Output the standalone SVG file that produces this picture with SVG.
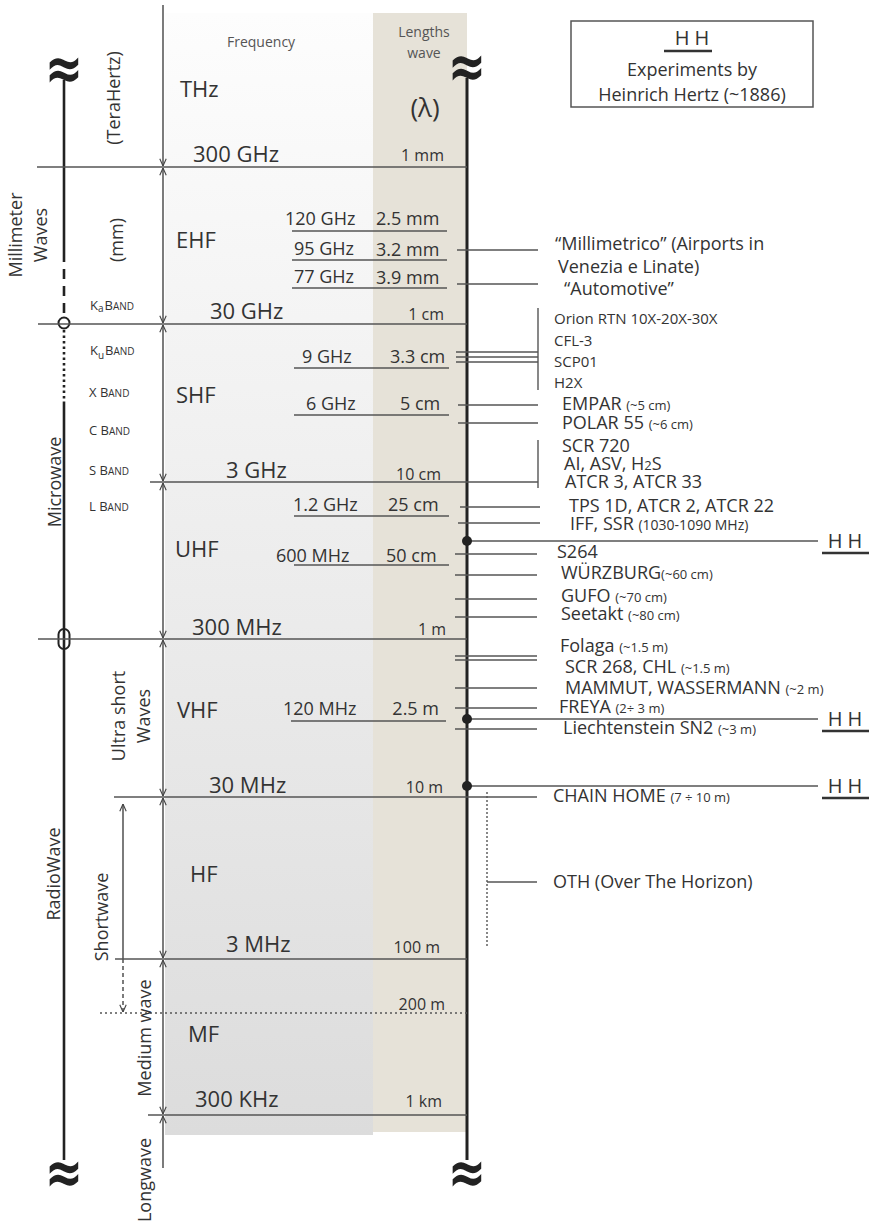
<svg xmlns="http://www.w3.org/2000/svg" width="875" height="1222" viewBox="0 0 875 1222">
<defs>
<linearGradient id="gcol" x1="0" y1="0" x2="0" y2="1">
<stop offset="0" stop-color="#fdfdfd"/>
<stop offset="1" stop-color="#dcdcdc"/>
</linearGradient>
<marker id="ah" viewBox="0 0 10 10" refX="10" refY="5" markerWidth="8" markerHeight="8" orient="auto-start-reverse" markerUnits="userSpaceOnUse">
<path d="M1,1 L10,5 L1,9" fill="none" stroke="#444" stroke-width="1.4"/>
</marker>
<style>
text{font-family:"Open Sans","Liberation Sans",sans-serif;fill:#333}
.big{font-size:22px}
.mid{font-size:18px}
.sm{font-size:16px}
.lab{font-size:18px}
.par{font-size:13px}
.hdr{font-size:14px;fill:#555}
.band{font-size:13px}
.bsm{font-size:10px}
.rot{font-size:18px;text-anchor:middle}
.ln{stroke:#555;stroke-width:1.5;fill:none}
.cn{stroke:#555;stroke-width:1.4;fill:none}
.ax{stroke:#444;stroke-width:1.4;fill:none}
.thick{stroke:#222;stroke-width:2.6;fill:none}
.sq{font-family:"DejaVu Sans",sans-serif;font-size:38px;font-weight:bold;fill:#222;text-anchor:middle}
.hh{font-size:20px}
</style>
</defs>

<g id="background">
<rect x="165" y="13" width="208" height="1122" fill="url(#gcol)"/>
<rect x="373" y="13" width="94" height="1119" fill="#e6e2d8"/>
</g>

<g id="axes">
<line class="thick" x1="64" y1="80" x2="64" y2="252"/>
<line class="thick" x1="64" y1="252" x2="64" y2="318" stroke-dasharray="10,7"/>
<circle cx="64" cy="323" r="5.5" fill="none" stroke="#222" stroke-width="2"/>
<line x1="64" y1="330" x2="64" y2="403" stroke="#222" stroke-width="2.6" stroke-dasharray="2.5,3"/>
<line class="thick" x1="64" y1="403" x2="64" y2="1160"/>
<rect x="58.5" y="629" width="11" height="20" rx="5.5" fill="none" stroke="#222" stroke-width="2"/>
<line x1="467" y1="78" x2="467" y2="1160" stroke="#222" stroke-width="3"/>
<text class="sq" transform="translate(64,68) scale(1.2,1.6)" x="0" y="13">≈</text>
<text class="sq" transform="translate(467,66) scale(1.2,1.6)" x="0" y="13">≈</text>
<text class="sq" transform="translate(64,1172) scale(1.2,1.6)" x="0" y="13">≈</text>
<text class="sq" transform="translate(467,1172) scale(1.2,1.6)" x="0" y="13">≈</text>
</g>

<g id="frequency-axis">
<line class="ax" x1="163" y1="5" x2="163" y2="166" marker-end="url(#ah)"/>
<line class="ax" x1="163" y1="168" x2="163" y2="323" marker-start="url(#ah)" marker-end="url(#ah)"/>
<line class="ax" x1="163" y1="325" x2="163" y2="481" marker-start="url(#ah)" marker-end="url(#ah)"/>
<line class="ax" x1="163" y1="483" x2="163" y2="638" marker-start="url(#ah)" marker-end="url(#ah)"/>
<line class="ax" x1="163" y1="640" x2="163" y2="796" marker-start="url(#ah)" marker-end="url(#ah)"/>
<line class="ax" x1="163" y1="798" x2="163" y2="958" marker-start="url(#ah)" marker-end="url(#ah)"/>
<line class="ax" x1="163" y1="960" x2="163" y2="1114" marker-start="url(#ah)" marker-end="url(#ah)"/>
<line class="ax" x1="163" y1="1116" x2="163" y2="1168" marker-start="url(#ah)"/>
<line class="ax" x1="123" y1="804" x2="123" y2="959" marker-start="url(#ah)"/>
<line class="ax" x1="123" y1="959" x2="123" y2="1012" stroke-dasharray="4,3" marker-end="url(#ah)"/>
</g>

<g id="connectors">
<line class="ln" x1="37" y1="167" x2="467" y2="167"/>
<line class="ln" x1="38" y1="324" x2="467" y2="324"/>
<line class="ln" x1="150" y1="482" x2="538" y2="482"/>
<line class="ln" x1="38" y1="639" x2="467" y2="639"/>
<line class="ln" x1="114" y1="797" x2="537" y2="797"/>
<line class="ln" x1="115" y1="959" x2="467" y2="959"/>
<line x1="100" y1="1013" x2="467" y2="1013" stroke="#555" stroke-width="1.5" stroke-dasharray="2,3"/>
<line class="ln" x1="148" y1="1115" x2="467" y2="1115"/>

<line class="ln" x1="292" y1="231" x2="447" y2="231"/>
<line class="ln" x1="292" y1="260" x2="447" y2="260"/>
<line class="ln" x1="292" y1="288" x2="447" y2="288"/>
<line class="ln" x1="294" y1="368" x2="449" y2="368"/>
<line class="ln" x1="294" y1="415" x2="449" y2="415"/>
<line class="ln" x1="294" y1="516" x2="449" y2="516"/>
<line class="ln" x1="294" y1="565" x2="449" y2="565"/>
<line class="ln" x1="291" y1="721" x2="446" y2="721"/>

<line class="cn" x1="457" y1="250" x2="538" y2="250"/>
<line class="cn" x1="457" y1="284" x2="538" y2="284"/>
<line class="cn" x1="538" y1="308" x2="538" y2="390"/>
<line class="cn" x1="456" y1="352" x2="538" y2="352"/>
<line class="cn" x1="456" y1="357" x2="538" y2="357"/>
<line class="cn" x1="456" y1="362" x2="538" y2="362"/>
<line class="cn" x1="458" y1="405" x2="538" y2="405"/>
<line class="cn" x1="458" y1="423" x2="538" y2="423"/>
<line class="cn" x1="538" y1="440" x2="538" y2="488"/>
<line class="cn" x1="460" y1="507" x2="540" y2="507"/>
<line class="cn" x1="458" y1="523" x2="540" y2="523"/>
<line class="cn" x1="467" y1="541" x2="818" y2="541"/>
<line class="cn" x1="455" y1="554" x2="537" y2="554"/>
<line class="cn" x1="455" y1="575" x2="537" y2="575"/>
<line class="cn" x1="455" y1="599" x2="537" y2="599"/>
<line class="cn" x1="455" y1="617" x2="537" y2="617"/>
<line class="cn" x1="455" y1="656" x2="537" y2="656"/>
<line class="cn" x1="455" y1="660" x2="537" y2="660"/>
<line class="cn" x1="455" y1="688" x2="537" y2="688"/>
<line class="cn" x1="455" y1="708" x2="537" y2="708"/>
<line class="cn" x1="467" y1="719" x2="818" y2="719"/>
<line class="cn" x1="455" y1="729" x2="537" y2="729"/>
<line class="cn" x1="467" y1="786" x2="818" y2="786"/>
<line x1="487" y1="792" x2="487" y2="947" stroke="#555" stroke-width="1.4" stroke-dasharray="2,2"/>
<line class="cn" x1="487" y1="882" x2="537" y2="882"/>
<circle cx="467" cy="541" r="5" fill="#222"/>
<circle cx="467" cy="719" r="5" fill="#222"/>
<circle cx="467" cy="786" r="5" fill="#222"/>
</g>

<g id="legend">
<rect x="571" y="21" width="242" height="86" fill="#fff" stroke="#555" stroke-width="1.5"/>
<text class="hh" x="692" y="45" text-anchor="middle">H H</text>
<line x1="664" y1="51" x2="712" y2="51" stroke="#333" stroke-width="2.5"/>
<text class="lab" x="692" y="76" text-anchor="middle">Experiments by</text>
<text class="lab" x="692" y="101" text-anchor="middle">Heinrich Hertz (~1886)</text>
</g>

<g id="headers">
<text class="hdr" x="227" y="47">Frequency</text>
<text class="hdr" x="424" y="37" text-anchor="middle">Lengths</text>
<text class="hdr" x="424" y="58" text-anchor="middle">wave</text>
<text x="425" y="117" text-anchor="middle" style="font-size:26px">(λ)</text>
</g>

<g id="band-names">
<text class="rot" transform="translate(120,98) rotate(-90)">(TeraHertz)</text>
<text class="rot" transform="translate(123,240) rotate(-90)">(mm)</text>
<text class="rot" transform="translate(22,235) rotate(-90)">Millimeter</text>
<text class="rot" transform="translate(47,235) rotate(-90)">Waves</text>
<text class="rot" transform="translate(61,482) rotate(-90)">Microwave</text>
<text class="rot" transform="translate(60,874) rotate(-90)">RadioWave</text>
<text class="rot" transform="translate(125,716) rotate(-90)">Ultra short</text>
<text class="rot" transform="translate(150,716) rotate(-90)">Waves</text>
<text class="rot" transform="translate(108,917) rotate(-90)">Shortwave</text>
<text class="rot" transform="translate(151,1038) rotate(-90)">Medium wave</text>
<text class="rot" transform="translate(151,1180) rotate(-90)">Longwave</text>

<text class="band" x="90" y="310">K<tspan class="bsm" dy="2">a</tspan><tspan dy="-2" dx="1">B</tspan><tspan class="bsm">AND</tspan></text>
<text class="band" x="90" y="355">K<tspan class="bsm" dy="4">u</tspan><tspan dy="-4" dx="1">B</tspan><tspan class="bsm">AND</tspan></text>
<text class="band" x="89" y="397">X B<tspan class="bsm">AND</tspan></text>
<text class="band" x="89" y="435">C B<tspan class="bsm">AND</tspan></text>
<text class="band" x="89" y="475">S B<tspan class="bsm">AND</tspan></text>
<text class="band" x="89" y="511">L B<tspan class="bsm">AND</tspan></text>
</g>

<g id="frequency-labels">
<text class="big" x="180" y="97">THz</text>
<text class="big" x="193" y="162">300 GHz</text>
<text class="sm" x="444" y="161" text-anchor="end">1 mm</text>
<text class="big" x="176" y="248">EHF</text>
<text class="mid" x="285" y="225">120 GHz</text>
<text class="mid" x="376" y="225">2.5 mm</text>
<text class="mid" x="294" y="255">95 GHz</text>
<text class="mid" x="376" y="256">3.2 mm</text>
<text class="mid" x="294" y="283">77 GHz</text>
<text class="mid" x="376" y="284">3.9 mm</text>
<text class="big" x="210" y="319">30 GHz</text>
<text class="sm" x="444" y="320" text-anchor="end">1 cm</text>
<text class="mid" x="302" y="363">9 GHz</text>
<text class="mid" x="390" y="363">3.3 cm</text>
<text class="big" x="176" y="403">SHF</text>
<text class="mid" x="306" y="410">6 GHz</text>
<text class="mid" x="400" y="410">5 cm</text>
<text class="big" x="226" y="478">3 GHz</text>
<text class="sm" x="441" y="480" text-anchor="end">10 cm</text>
<text class="mid" x="293" y="511">1.2 GHz</text>
<text class="mid" x="388" y="511">25 cm</text>
<text class="big" x="175" y="557">UHF</text>
<text class="mid" x="276" y="562">600 MHz</text>
<text class="mid" x="386" y="562">50 cm</text>
<text class="big" x="192" y="635">300 MHz</text>
<text class="sm" x="446" y="635" text-anchor="end">1 m</text>
<text class="big" x="177" y="718">VHF</text>
<text class="mid" x="283" y="715">120 MHz</text>
<text class="mid" x="439" y="715" text-anchor="end">2.5 m</text>
<text class="big" x="209" y="793">30 MHz</text>
<text class="sm" x="443" y="793" text-anchor="end">10 m</text>
<text class="big" x="190" y="882">HF</text>
<text class="big" x="226" y="952">3 MHz</text>
<text class="sm" x="440" y="953" text-anchor="end">100 m</text>
<text class="sm" x="445" y="1010" text-anchor="end">200 m</text>
<text class="big" x="188" y="1042">MF</text>
<text class="big" x="195" y="1107">300 KHz</text>
<text class="sm" x="442" y="1107" text-anchor="end">1 km</text>
</g>

<g id="radar-labels">
<text class="lab" x="555" y="250">“Millimetrico” (Airports in</text>
<text class="lab" x="558" y="273">Venezia e Linate)</text>
<text class="lab" x="564" y="295">“Automotive”</text>
<text class="band" style="font-size:15px" x="554" y="324">Orion RTN 10X-20X-30X</text>
<text class="band" style="font-size:15px" x="554" y="346">CFL-3</text>
<text class="band" style="font-size:15px" x="554" y="367">SCP01</text>
<text class="band" style="font-size:15px" x="554" y="388">H2X</text>
<text class="lab" x="562" y="410">EMPAR <tspan class="par">(~5 cm)</tspan></text>
<text class="lab" x="562" y="429">POLAR 55 <tspan class="par">(~6 cm)</tspan></text>
<text class="lab" x="562" y="452">SCR 720</text>
<text class="lab" x="564" y="470">AI, ASV, H<tspan class="par">2</tspan>S</text>
<text class="lab" x="565" y="488">ATCR 3, ATCR 33</text>
<text class="lab" x="569" y="512">TPS 1D, ATCR 2, ATCR 22</text>
<text class="lab" x="570" y="530">IFF, SSR <tspan style="font-size:14px">(1030-1090 MHz)</tspan></text>
<text class="lab" x="557" y="558">S264</text>
<text class="lab" x="561" y="579">WÜRZBURG<tspan class="par">(~60 cm)</tspan></text>
<text class="lab" x="561" y="602">GUFO <tspan class="par">(~70 cm)</tspan></text>
<text class="lab" x="561" y="620">Seetakt <tspan class="par">(~80 cm)</tspan></text>
<text class="lab" x="560" y="652">Folaga <tspan class="par">(~1.5 m)</tspan></text>
<text class="lab" x="565" y="673">SCR 268, CHL <tspan class="par">(~1.5 m)</tspan></text>
<text class="lab" x="565" y="694">MAMMUT, WASSERMANN <tspan class="par">(~2 m)</tspan></text>
<text class="lab" x="559" y="713">FREYA <tspan class="par">(2÷ 3 m)</tspan></text>
<text class="lab" x="563" y="734">Liechtenstein SN2 <tspan class="par">(~3 m)</tspan></text>
<text class="lab" x="553" y="802">CHAIN HOME <tspan class="par">(7 ÷ 10 m)</tspan></text>
<text class="lab" x="553" y="888">OTH (Over The Horizon)</text>
</g>

<g id="hertz-marks">
<text class="hh" x="845" y="548" text-anchor="middle">H H</text>
<line x1="822" y1="553" x2="869" y2="553" stroke="#333" stroke-width="2.5"/>
<text class="hh" x="845" y="726" text-anchor="middle">H H</text>
<line x1="822" y1="731" x2="869" y2="731" stroke="#333" stroke-width="2.5"/>
<text class="hh" x="845" y="793" text-anchor="middle">H H</text>
<line x1="822" y1="798" x2="869" y2="798" stroke="#333" stroke-width="2.5"/>
</g>
</svg>
